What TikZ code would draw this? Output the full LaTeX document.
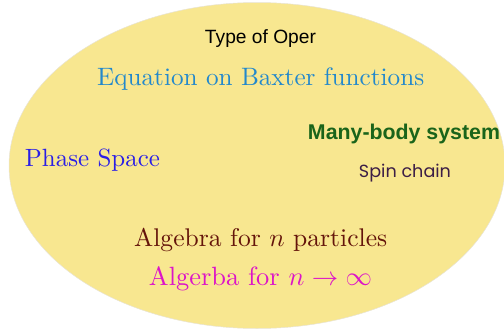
\documentclass[tikz,border=0pt]{standalone}
\usepackage{graphicx}
\usepackage{fontspec}
\newfontfamily\helv{Liberation Sans}
\newfontfamily\spinfont{Poppins}
\definecolor{blobyellow}{HTML}{F8E790}
\definecolor{blobedge}{HTML}{E8E4D6}
\definecolor{eqblue}{HTML}{2288CC}
\definecolor{phaseblue}{HTML}{2A1EE6}
\definecolor{manygreen}{HTML}{1A641A}
\definecolor{spinpurple}{HTML}{3C1E46}
\definecolor{algbrown}{HTML}{64140A}
\definecolor{algmagenta}{HTML}{DC14C8}
\begin{document}
\begin{tikzpicture}[x=1pt,y=-1pt,
  lbl/.style={anchor=base,inner sep=0pt,outer sep=0pt}]
\useasboundingbox (0,0) rectangle (504,335);
\clip (0,0) rectangle (504,335);
\fill[blobyellow,draw=blobedge,line width=0.5pt] (257,165.5) ellipse [x radius=248, y radius=163];
\node[lbl] (oper) at (260.5,43) {\resizebox{111pt}{!}{\helv\fontsize{12}{14}\selectfont Type of Oper}};
\node[lbl,text=eqblue] (eq) at (260.7,85) {\resizebox{327pt}{!}{\fontsize{10}{12}\selectfont Equation on Baxter functions}};
\node[lbl,text=phaseblue] (phase) at (92.5,166) {\resizebox{135pt}{!}{\fontsize{10}{12}\selectfont Phase Space}};
\node[lbl,text=manygreen] (many) at (404,139.5) {\resizebox{192pt}{!}{\helv\bfseries\fontsize{12}{14}\selectfont Many-body system}};
\node[lbl,text=spinpurple] (spin) at (405,177) {\resizebox{92pt}{!}{\spinfont\fontsize{12}{14}\selectfont Spin chain}};
\node[lbl,text=algbrown] (algn) at (260.7,246.7) {\resizebox{253pt}{!}{\fontsize{10}{12}\selectfont Algebra for $n$ particles}};
\node[lbl,text=algmagenta] (alginf) at (260.5,285.7) {\resizebox{223pt}{!}{\fontsize{10}{12}\selectfont Algerba for $n\to\infty$}};
\end{tikzpicture}
\end{document}
